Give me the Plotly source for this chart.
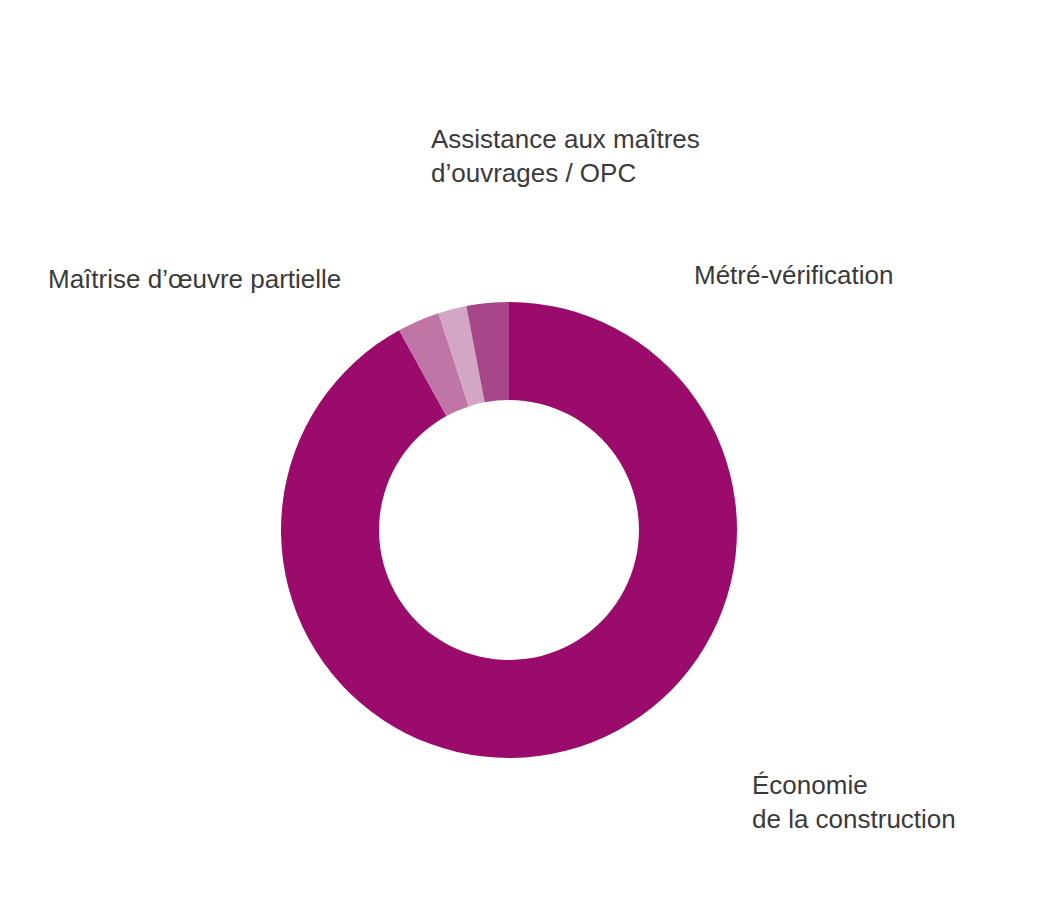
import plotly.graph_objects as go

labels = ["Économie de la construction", "Maîtrise d’œuvre partielle",
          "Assistance aux maîtres d’ouvrages / OPC", "Métré-vérification"]
values = [92, 3, 2, 3]
colors = ["#9B0B6B", "#BF76A6", "#D4A6C6", "#A8468A"]

W, H = 1042, 900
OFF = 8  # page body margin
cx, cy, r = 509 - OFF, 530 - OFF, 228

fig = go.Figure(go.Pie(
    labels=labels, values=values, sort=False, direction="clockwise", rotation=0,
    hole=0.57, marker=dict(colors=colors, line=dict(width=0)),
    textinfo="none", hoverinfo="label+percent", showlegend=False,
    domain=dict(x=[(cx - r) / W, (cx + r) / W], y=[(H - cy - r) / H, (H - cy + r) / H]),
))

font = dict(family="Liberation Sans, Arial, Helvetica, sans-serif", size=26, color="#3a3a3a")
ann = [
    ("Assistance aux maîtres<br>d’ouvrages / OPC", 421, 148),
    ("Maîtrise d’œuvre partielle", 38, 271),
    ("Métré-vérification", 684, 267),
    ("Économie<br>de la construction", 742, 794),
]
for text, x, y in ann:
    fig.add_annotation(text=text, x=x / W, y=1 - y / H, xref="paper", yref="paper",
                       xanchor="left", yanchor="middle", align="left", showarrow=False,
                       font=font)

fig.update_layout(width=W, height=H, margin=dict(l=0, r=0, t=0, b=0),
                  paper_bgcolor="white", plot_bgcolor="white")
fig.write_html("out.html")
